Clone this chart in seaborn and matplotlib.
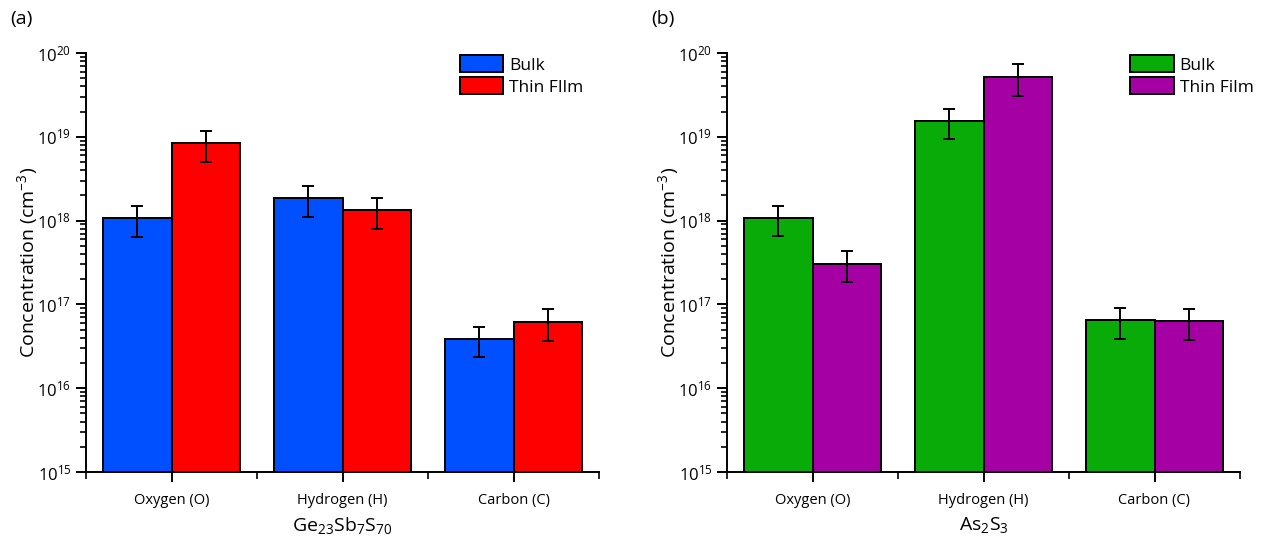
import numpy as np
import pandas as pd
import matplotlib
matplotlib.use("Agg")
import matplotlib.pyplot as plt
import matplotlib.ticker as mticker
import seaborn as sns

# Impurity concentrations (cm^-3) measured for each element
elements = ["Oxygen (O)", "Hydrogen (H)", "Carbon (C)"]

gss_bulk = [1.07e18, 1.86e18, 3.83e16]
gss_film = [8.4e18, 1.33e18, 6.2e16]
gss_bulk_err = [0.43e18, 0.75e18, 1.5e16]
gss_film_err = [3.4e18, 0.53e18, 2.5e16]

as2s3_bulk = [1.08e18, 1.55e19, 6.5e16]
as2s3_film = [3.06e17, 5.2e19, 6.3e16]
as2s3_bulk_err = [0.43e18, 0.62e19, 2.6e16]
as2s3_film_err = [1.22e17, 2.1e19, 2.5e16]

panels = [
    dict(tag="(a)", xlabel=r"Ge$_{23}$Sb$_{7}$S$_{70}$",
         bulk=gss_bulk, film=gss_film, bulk_err=gss_bulk_err, film_err=gss_film_err,
         names=["Bulk", "Thin FIlm"], colors=["#0050ff", "#ff0000"], leg_x=0.729),
    dict(tag="(b)", xlabel=r"As$_{2}$S$_{3}$",
         bulk=as2s3_bulk, film=as2s3_film, bulk_err=as2s3_bulk_err, film_err=as2s3_film_err,
         names=["Bulk", "Thin Film"], colors=["#08ab08", "#a400a4"], leg_x=0.786),
]

sns.set_theme(style="ticks")
plt.rcParams["font.family"] = ["Open Sans", "DejaVu Sans"]
plt.rcParams["mathtext.fontset"] = "custom"
plt.rcParams["mathtext.rm"] = "Open Sans"
plt.rcParams["mathtext.it"] = "Open Sans"
plt.rcParams["mathtext.bf"] = "Open Sans"
plt.rcParams["text.color"] = "black"
plt.rcParams["axes.labelcolor"] = "black"
plt.rcParams["xtick.color"] = "black"
plt.rcParams["ytick.color"] = "black"

fig = plt.figure(figsize=(12.65, 5.41), dpi=100)
ax_boxes = [
    [86 / 1265, 1 - 472 / 541, 513 / 1265, 419 / 541],
    [727 / 1265, 1 - 472 / 541, 513 / 1265, 419 / 541],
]

for box, p in zip(ax_boxes, panels):
    ax = fig.add_axes(box)
    df = pd.DataFrame({
        "element": elements * 2,
        "conc": p["bulk"] + p["film"],
        "err": p["bulk_err"] + p["film_err"],
        "sample": [p["names"][0]] * 3 + [p["names"][1]] * 3,
    })
    sns.barplot(data=df, x="element", y="conc", hue="sample", order=elements,
                hue_order=p["names"], palette=p["colors"], errorbar=None,
                width=0.8, edgecolor="black", linewidth=1.4, ax=ax,
                saturation=1)
    ax.set_yscale("log")

    # error bars centred on each drawn bar
    for cont, name in zip(ax.containers, p["names"]):
        sub = df[df["sample"] == name].set_index("element").loc[elements]
        xs = [b.get_x() + b.get_width() / 2 for b in cont.patches]
        ax.errorbar(xs, sub["conc"].values, yerr=sub["err"].values, fmt="none",
                    ecolor="black", elinewidth=1.4, capsize=4, capthick=1.4, zorder=5)

    ax.set_ylim(1e15, 1e20)
    ax.set_xlim(-0.5, 2.5)
    ax.yaxis.set_major_locator(mticker.LogLocator(base=10, numticks=10))
    ax.yaxis.set_minor_locator(mticker.LogLocator(base=10, subs=np.arange(2, 10), numticks=10))
    ax.yaxis.set_minor_formatter(mticker.NullFormatter())
    ax.xaxis.set_minor_locator(mticker.FixedLocator([-0.5, 0.5, 1.5, 2.5]))

    for s in ["top", "right"]:
        ax.spines[s].set_visible(False)
    for s in ["left", "bottom"]:
        ax.spines[s].set_linewidth(1.4)
        ax.spines[s].set_color("black")

    ax.tick_params(axis="both", which="major", direction="out", length=7, width=1.4,
                   color="black", labelsize=12)
    ax.tick_params(axis="both", which="minor", direction="out", length=4, width=1.2,
                   color="black")
    ax.tick_params(axis="x", which="major", labelsize=10.5, pad=8)
    ax.tick_params(axis="x", which="minor", length=5)

    ax.set_ylabel(r"Concentration (cm$^{-3}$)", fontsize=14, labelpad=-2)
    ax.set_xlabel(p["xlabel"], fontsize=14, labelpad=5)

    leg = ax.legend(loc="upper left", bbox_to_anchor=(p["leg_x"], 0.995), frameon=False,
                    fontsize=12.5, handlelength=2.5, handleheight=1.15,
                    handletextpad=0.35, labelspacing=0.2, borderaxespad=0.0,
                    borderpad=0.0)
    for h in leg.legend_handles:
        h.set_edgecolor("black")
        h.set_linewidth(1.4)

    fig.text(box[0] - 76 / 1265, 0.965, p["tag"], fontsize=14, va="center", ha="left")

fig.savefig("out.png", dpi=100)
